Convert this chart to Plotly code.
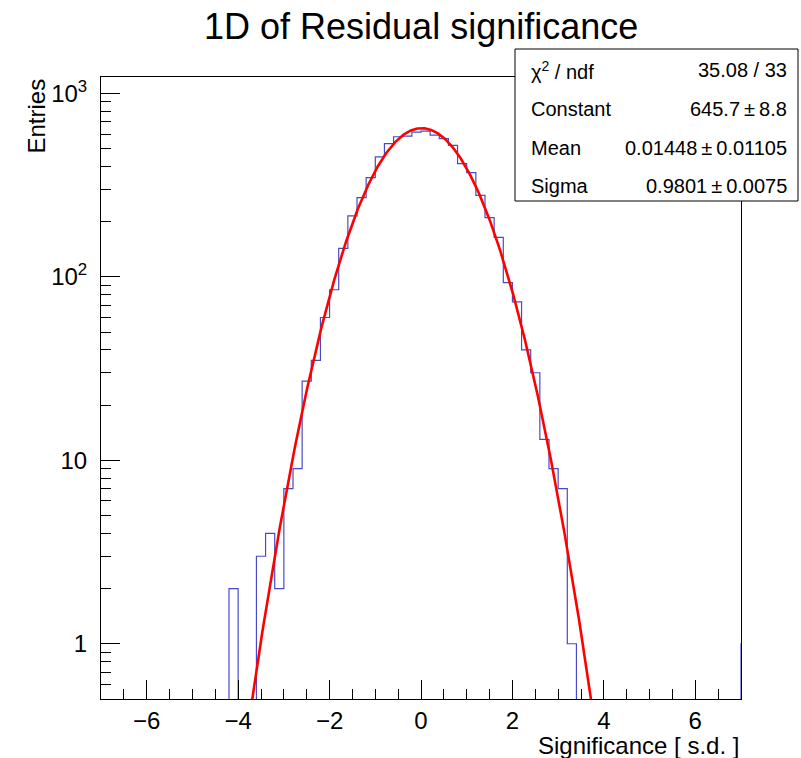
import numpy as np
import plotly.graph_objects as go

# Histogram binning: width 0.2 starting at -7; the axis shows [-7, 7]
x_low, x_high, bin_w = -7.0, 7.0, 0.2

# Bin contents (entries per bin), left to right; the last bin lies just past the axis end
counts = [
    0, 0, 0, 0, 0, 0, 0, 0, 0, 0,          # -7.0 .. -5.0
    0, 0, 0, 0, 2, 0, 0, 3, 4, 2,          # -5.0 .. -3.0
    7, 9, 27, 35, 60, 85, 143, 215, 270, 347,   # -3.0 .. -1.0
    450, 532, 580, 584, 615, 622, 592, 566, 520, 414,  # -1.0 .. 1.0
    370, 278, 210, 164, 93, 73, 40, 30, 13, 9,   # 1.0 .. 3.0
    7, 1, 0, 0, 0, 0, 0, 0, 0, 0,          # 3.0 .. 5.0
    0, 0, 0, 0, 0, 0, 0, 0, 0, 0,          # 5.0 .. 7.0
    1,                                     # 7.0 .. 7.2
]

# Gaussian fit results
fit_constant, fit_constant_err = 645.7, 8.8
fit_mean, fit_mean_err = 0.01448, 0.01105
fit_sigma, fit_sigma_err = 0.9801, 0.0075
chi2, ndf = 35.08, 33

# Axis tick labels
x_ticks = [-6, -4, -2, 0, 2, 4, 6]
y_ticks = [1, 10, 100, 1000]
y_ticktext = ["1", "10", "10<sup>2</sup>", "10<sup>3</sup>"]

y_min, y_max_log = 0.5, 3.089

FONT = "Liberation Sans, Arial, Helvetica, sans-serif"
HIST_COLOR = "#4a4ac8"

n_bins = len(counts)
edges = x_low + bin_w * np.arange(n_bins + 1)
cnt = np.asarray(counts, dtype=float)
floor = y_min * 1e-3  # empty bins drop below the visible log range
shown = np.where(cnt > 0, cnt, floor)

hx = np.concatenate([[edges[0]], edges[:-1], [edges[-1]], [edges[-1]]])
hy = np.concatenate([[floor], shown, [shown[-1]], [floor]])

xf = np.linspace(x_low, x_high, 1401)
yf = fit_constant * np.exp(-0.5 * ((xf - fit_mean) / fit_sigma) ** 2)

fig = go.Figure()
fig.add_trace(go.Scatter(
    x=hx, y=hy, mode="lines", line=dict(color=HIST_COLOR, width=1.2, shape="hv"),
    hoverinfo="skip", showlegend=False,
))
fig.add_trace(go.Scatter(
    x=xf, y=yf, mode="lines", line=dict(color="#ff0000", width=2.6),
    hoverinfo="skip", showlegend=False,
))

# Plot frame in pixels
L, R, T, B = 101, 741, 77, 699
W, H = 801, 758
pw, ph = R - L, B - T


def px(x):
    return (x - L) / pw


def py(y):
    return (B - y) / ph


fig.update_layout(
    width=W, height=H,
    margin=dict(l=L, r=W - R, t=T, b=H - B, pad=0),
    paper_bgcolor="white", plot_bgcolor="white",
    font=dict(family=FONT, color="black"),
    showlegend=False,
)

fig.update_xaxes(
    range=[x_low, x_high], showgrid=False, zeroline=False,
    showline=True, linecolor="black", linewidth=1, mirror=True,
    ticks="inside", ticklen=19, tickwidth=1, tickcolor="black",
    tickmode="array", tickvals=x_ticks,
    ticktext=[("\u2212" + str(abs(v))) if v < 0 else str(v) for v in x_ticks],
    tickfont=dict(size=24, family=FONT), ticklabelstandoff=0,
    minor=dict(ticks="inside", ticklen=10, tickwidth=1, tickcolor="black",
               dtick=0.5, tick0=0, showgrid=False),
)

minor_y = [m * 10 ** k for k in range(-1, 3) for m in range(2, 10)
           if y_min < m * 10 ** k < 10 ** y_max_log]
fig.update_yaxes(
    type="log", range=[np.log10(y_min), y_max_log], showgrid=False, zeroline=False,
    showline=True, linecolor="black", linewidth=1, mirror=True,
    ticks="inside", ticklen=19, tickwidth=1, tickcolor="black",
    tickmode="array", tickvals=y_ticks, ticktext=y_ticktext,
    tickfont=dict(size=24, family=FONT), ticklabelstandoff=8,
    minor=dict(ticks="inside", ticklen=10, tickwidth=1, tickcolor="black",
               tickmode="array", tickvals=minor_y, showgrid=False),
)

annotations = []
# Title
annotations.append(dict(
    text="1D of Residual significance", x=px(421), y=py(26), xref="paper", yref="paper",
    xanchor="center", yanchor="middle", showarrow=False,
    font=dict(size=36, family=FONT, color="black"),
))
# Axis titles
annotations.append(dict(
    text="Significance [ s.d. ]", x=px(741), y=py(745), xref="paper", yref="paper",
    xanchor="right", yanchor="middle", showarrow=False,
    font=dict(size=24, family=FONT, color="black"),
))
annotations.append(dict(
    text="Entries", x=px(36), y=py(77), xref="paper", yref="paper",
    xanchor="center", yanchor="top", textangle=-90, showarrow=False,
    font=dict(size=24, family=FONT, color="black"),
))

# Fit statistics box
rows = [
    ("\u03c7<sup>2</sup> / ndf", f"{chi2:.2f} / {ndf}"),
    ("Constant", f"{fit_constant:.1f}\u2009\u00b1\u2009{fit_constant_err:.1f}"),
    ("Mean", f"{fit_mean:.5f}\u2009\u00b1\u2009{fit_mean_err:.5f}"),
    ("Sigma", f"{fit_sigma:.4f}\u2009\u00b1\u2009{fit_sigma_err:.4f}"),
]
row_y = [70, 109, 147.5, 186]
for (lab, val), yy in zip(rows, row_y):
    annotations.append(dict(
        text=lab, x=px(529), y=py(yy), xref="paper", yref="paper",
        xanchor="left", yanchor="middle", showarrow=False,
        font=dict(size=20, family=FONT, color="black"),
    ))
    annotations.append(dict(
        text=val, x=px(789), y=py(yy), xref="paper", yref="paper",
        xanchor="right", yanchor="middle", showarrow=False,
        font=dict(size=20, family=FONT, color="black"),
    ))

fig.update_layout(
    annotations=annotations,
    shapes=[dict(
        type="rect", xref="paper", yref="paper",
        x0=px(515), x1=px(798), y0=py(201), y1=py(49),
        line=dict(color="black", width=1), fillcolor="white", layer="above",
    )],
)

fig.write_html("out.html")
